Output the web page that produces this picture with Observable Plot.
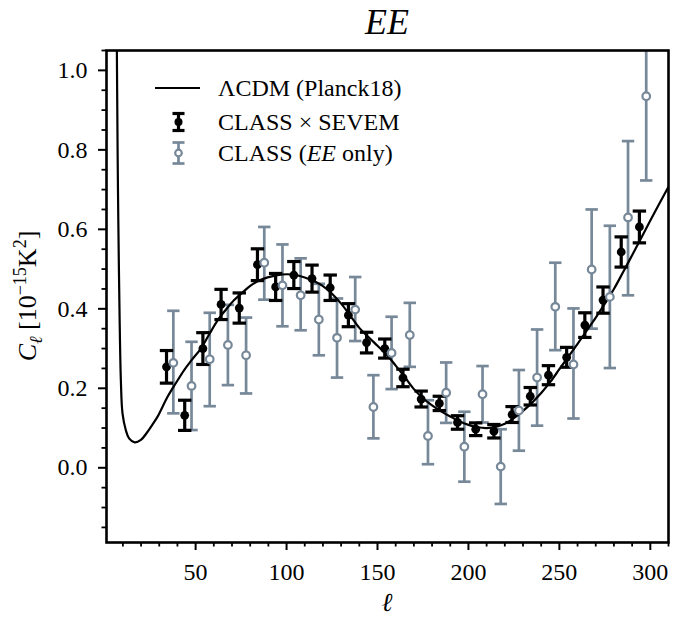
<!DOCTYPE html>
<html><head><meta charset="utf-8">
<script src="https://cdn.jsdelivr.net/npm/d3@7"></script>
<script src="https://cdn.jsdelivr.net/npm/@observablehq/plot@0.6"></script>
<style>
body{margin:0;background:#fff;}
#title{height:40px;width:680px;position:relative;font-family:"Liberation Serif","DejaVu Serif",serif;}
#title span{position:absolute;left:387px;top:4px;transform:translateX(-50%);font-style:italic;font-size:36px;line-height:1;}
#chart svg{display:block;}
</style></head><body>
<div id="title"><span>EE</span></div>
<div id="chart"></div>
<script>
// ---- data ----
const curveEll = [6.3,6.7,7.1,7.5,8.2,8.9,9.8,11.6,13.4,16.5,19.9,23,26,29,34.5,39,43.7,48,52.9,57.5,62.1,66.5,71.2,76,80.4,85,89.6,95,100.5,105,110,115,120,125,130,135,140,145,150,155,160,165,170,175,180,185,190,195,200,205,210,215,220,225,230,235,240,245,250,255,260,265,270,275,280,285,290,295,300,305,310];
const curveCl  = [1.3,1.05,0.8,0.62,0.38,0.22,0.137,0.095,0.074,0.064,0.07,0.087,0.107,0.128,0.178,0.212,0.246,0.272,0.300,0.336,0.371,0.397,0.422,0.442,0.459,0.471,0.479,0.485,0.487,0.485,0.479,0.470,0.457,0.438,0.413,0.383,0.352,0.329,0.307,0.285,0.257,0.228,0.198,0.175,0.157,0.142,0.129,0.117,0.108,0.102,0.100,0.103,0.111,0.125,0.143,0.164,0.188,0.216,0.248,0.280,0.312,0.345,0.378,0.413,0.450,0.492,0.535,0.578,0.622,0.665,0.707];

const blackEll = [34,44,54,64,74,84,94,104,114,124,134,144,154,164,174,184,194,204,214,224,234,244,254,264,274,284,294];
const blackCl  = [0.254,0.132,0.300,0.411,0.402,0.511,0.455,0.485,0.476,0.453,0.384,0.315,0.300,0.226,0.173,0.162,0.114,0.097,0.092,0.134,0.180,0.233,0.278,0.359,0.422,0.543,0.606];
const blackErr = [0.041,0.038,0.040,0.038,0.038,0.040,0.034,0.034,0.034,0.032,0.029,0.026,0.024,0.022,0.020,0.018,0.017,0.016,0.017,0.020,0.022,0.024,0.025,0.031,0.033,0.038,0.040];

const grayEll = [37.75,47.75,57.75,67.75,77.75,87.75,97.75,107.75,117.75,127.75,137.75,147.75,157.75,167.75,177.75,187.75,197.75,207.75,217.75,227.75,237.75,247.75,257.75,267.75,277.75,287.75,297.75];
const grayCl  = [0.264,0.206,0.273,0.309,0.283,0.516,0.459,0.434,0.373,0.327,0.398,0.153,0.289,0.334,0.080,0.189,0.053,0.185,0.003,0.144,0.227,0.405,0.260,0.499,0.430,0.630,0.935];
const grayLo  = [0.137,0.095,0.155,0.208,0.187,0.423,0.356,0.346,0.283,0.227,0.319,0.074,0.198,0.254,0.009,0.113,-0.035,0.114,-0.091,0.043,0.106,0.296,0.124,0.350,0.251,0.434,0.723];
const grayHi  = [0.395,0.317,0.390,0.410,0.378,0.606,0.562,0.527,0.463,0.426,0.480,0.233,0.380,0.415,0.170,0.265,0.141,0.256,0.097,0.246,0.348,0.516,0.401,0.650,0.609,0.822,1.147];

const xMajor = [50,100,150,200,250,300];
const xMinor = [10,20,30,40,60,70,80,90,110,120,130,140,160,170,180,190,210,220,230,240,260,270,280,290,310];
const yMajor = [0.0,0.2,0.4,0.6,0.8,1.0];
const yMinor = [-0.15,-0.1,-0.05,0.05,0.1,0.15,0.25,0.3,0.35,0.45,0.5,0.55,0.65,0.7,0.75,0.85,0.9,0.95,1.05];

const legendLabels = ["ΛCDM (Planck18)", "CLASS × SEVEM", "CLASS (EE only)"];

// ---- tables ----
const curveRows = curveEll.map((l,i)=>({ell:l, cl:curveCl[i]}));
const blackRows = blackEll.map((l,i)=>({ell:l, cl:blackCl[i], lo:blackCl[i]-blackErr[i], hi:blackCl[i]+blackErr[i]}));
const grayRows  = grayEll.map((l,i)=>({ell:l, cl:grayCl[i], lo:grayLo[i], hi:grayHi[i]}));

const slate = "#778899";
const serif = "Liberation Serif, DejaVu Serif, serif";
const cap = {draw(ctx, size){ const r = Math.sqrt(size/Math.PI); ctx.moveTo(-r,0); ctx.lineTo(r,0); }};

const W = 680, H = 585;
const chart = Plot.plot({
  width: W, height: H,
  marginLeft: 106, marginRight: 12, marginTop: 10, marginBottom: 83,
  x: {domain: [1,310]},
  y: {domain: [-0.188,1.05]},
  style: {fontFamily: serif, fontSize: "24px", color: "black", background: "white"},
  marks: [
    Plot.axisX(xMajor, {anchor:"bottom", tickSize: 8, tickPadding: 12, strokeWidth: 2, fontSize: 24, label: null}),
    Plot.axisX(xMinor, {anchor:"bottom", tickSize: 4.5, strokeWidth: 1.8, tickFormat: () => "", label: null}),
    Plot.axisY(yMajor, {anchor:"left", tickSize: 8, tickPadding: 11, strokeWidth: 2, fontSize: 24, tickFormat: d3.format(".1f"), label: null}),
    Plot.axisY(yMinor, {anchor:"left", tickSize: 4.5, strokeWidth: 1.8, tickFormat: () => "", label: null}),
    // CLASS (EE only) error bars
    Plot.ruleX(grayRows, {x:"ell", y1:"lo", y2:"hi", stroke: slate, strokeWidth: 2.7, clip: true}),
    Plot.dot(grayRows, {x:"ell", y:"lo", symbol: cap, r: 6.2, fill: "none", stroke: slate, strokeWidth: 2.7, clip: true}),
    Plot.dot(grayRows, {x:"ell", y:"hi", symbol: cap, r: 6.2, fill: "none", stroke: slate, strokeWidth: 2.7, clip: true}),
    // LCDM curve
    Plot.line(curveRows, {x:"ell", y:"cl", curve:"catmull-rom", stroke:"black", strokeWidth: 2.2, clip: true}),
    // CLASS x SEVEM
    Plot.ruleX(blackRows, {x:"ell", y1:"lo", y2:"hi", stroke:"black", strokeWidth: 3.2}),
    Plot.dot(blackRows, {x:"ell", y:"lo", symbol: cap, r: 6.7, fill:"none", stroke:"black", strokeWidth: 3.2}),
    Plot.dot(blackRows, {x:"ell", y:"hi", symbol: cap, r: 6.7, fill:"none", stroke:"black", strokeWidth: 3.2}),
    Plot.dot(blackRows, {x:"ell", y:"cl", r: 4.4, fill:"black", stroke:"none"}),
    Plot.dot(grayRows, {x:"ell", y:"cl", r: 3.8, fill:"white", stroke: slate, strokeWidth: 2.2, clip: true}),
    Plot.frame({stroke:"black", strokeWidth: 2.6})
  ]
});
document.getElementById("chart").appendChild(chart);

// ---- axis labels & legend ----
const svg = d3.select(chart);
const yl = svg.append("text")
  .attr("transform","translate(36,256) rotate(-90)")
  .attr("text-anchor","middle")
  .attr("font-family", serif).attr("font-size", 26).attr("fill","black");
yl.append("tspan").attr("font-style","italic").text("C");
yl.append("tspan").attr("font-style","italic").attr("font-size",18).attr("dy",6).text("ℓ");
yl.append("tspan").attr("dy",-6).text(" [10");
yl.append("tspan").attr("font-size",18).attr("dy",-10).text("−15");
yl.append("tspan").attr("dy",10).text("K");
yl.append("tspan").attr("font-size",18).attr("dy",-10).text("2");
yl.append("tspan").attr("dy",10).text("]");

svg.append("text").attr("x",387).attr("y",571).attr("text-anchor","middle")
  .attr("font-family", serif).attr("font-size", 26).attr("font-style","italic").attr("fill","black").text("ℓ");

const leg = svg.append("g").attr("font-family", serif).attr("font-size", 24).attr("fill","black").attr("text-anchor","start");
const rows = [48, 82, 113];
leg.append("line").attr("x1",155).attr("x2",200).attr("y1",rows[0]).attr("y2",rows[0]).attr("stroke","black").attr("stroke-width",2.2);
function marker(cx, cy, half, color, w, filled){
  leg.append("line").attr("x1",cx).attr("x2",cx).attr("y1",cy-half).attr("y2",cy+half).attr("stroke",color).attr("stroke-width",w);
  leg.append("line").attr("x1",cx-6).attr("x2",cx+6).attr("y1",cy-half).attr("y2",cy-half).attr("stroke",color).attr("stroke-width",w);
  leg.append("line").attr("x1",cx-6).attr("x2",cx+6).attr("y1",cy+half).attr("y2",cy+half).attr("stroke",color).attr("stroke-width",w);
  leg.append("circle").attr("cx",cx).attr("cy",cy).attr("r",filled?4:3.3).attr("fill",filled?"black":"white").attr("stroke",filled?"none":color).attr("stroke-width",2.2);
}
marker(178.5, rows[1], 8.5, "black", 3.2, true);
marker(178.5, rows[2], 10.5, slate, 2.7, false);
leg.append("text").attr("x",218).attr("y",rows[0]).attr("dy","0.35em").text(legendLabels[0]);
leg.append("text").attr("x",218).attr("y",rows[1]).attr("dy","0.35em").text(legendLabels[1]);
const t3 = leg.append("text").attr("x",218).attr("y",rows[2]).attr("dy","0.35em");
t3.append("tspan").text("CLASS (");
t3.append("tspan").attr("font-style","italic").text("EE");
t3.append("tspan").text(" only)");
</script>
</body></html>
